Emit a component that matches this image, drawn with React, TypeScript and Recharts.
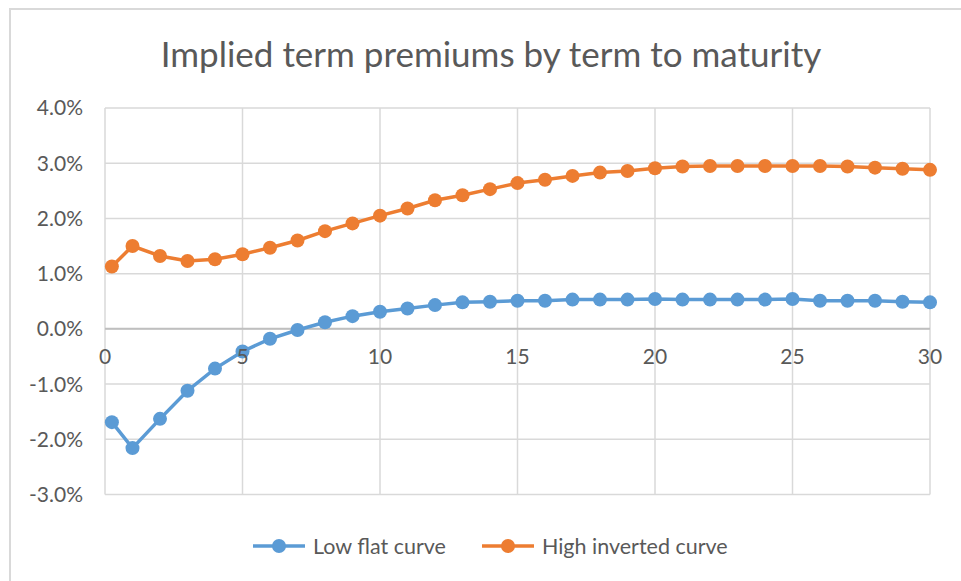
import React from "react";
import {
  LineChart,
  Line,
  XAxis,
  YAxis,
  CartesianGrid,
  ReferenceLine,
} from "recharts";

// term to maturity (years)
const terms = [0.25, 1, 2, 3, 4, 5, 6, 7, 8, 9, 10, 11, 12, 13, 14, 15, 16, 17, 18, 19, 20, 21, 22, 23, 24, 25, 26, 27, 28, 29, 30];
// implied term premium, %
const lowFlat = [-1.69, -2.16, -1.63, -1.12, -0.72, -0.41, -0.18, -0.02, 0.12, 0.23, 0.31, 0.37, 0.43, 0.48, 0.49, 0.51, 0.51, 0.53, 0.53, 0.53, 0.54, 0.53, 0.53, 0.53, 0.53, 0.54, 0.51, 0.51, 0.51, 0.49, 0.48];
const highInverted = [1.13, 1.5, 1.32, 1.23, 1.26, 1.35, 1.47, 1.6, 1.77, 1.91, 2.05, 2.18, 2.33, 2.42, 2.53, 2.64, 2.7, 2.77, 2.83, 2.86, 2.91, 2.94, 2.95, 2.95, 2.95, 2.95, 2.95, 2.94, 2.92, 2.9, 2.88];

const xTicks = [0, 5, 10, 15, 20, 25, 30];
const yTicks = [-3, -2, -1, 0, 1, 2, 3, 4];

const series = [
  { key: "low", name: "Low flat curve", color: "#5B9BD5" },
  { key: "high", name: "High inverted curve", color: "#ED7D31" },
];

const data = terms.map((t, i) => ({ term: t, low: lowFlat[i], high: highInverted[i] }));

const W = 961;
const H = 581;
const TOP = 108;
const PLOT_H = 386.5;
const Y_MIN = -3;
const Y_MAX = 4;
const FONT = "Lato, 'Noto Sans', sans-serif";
const TEXT = "#595959";
const GRID = "#D9D9D9";

// x labels sit just under the zero line, like Excel does
const zeroFromBottom = ((0 - Y_MIN) / (Y_MAX - Y_MIN)) * PLOT_H;

const XTick = (props: any) => {
  const { x, y, payload } = props;
  return (
    <text
      x={x}
      y={y - zeroFromBottom + 28}
      textAnchor="middle"
      dominantBaseline="middle"
      fill={TEXT}
      fontSize={21}
      fontFamily={FONT}
    >
      {payload.value}
    </text>
  );
};

const LegendIcon = ({ color }: { color: string }) => (
  <svg width={52} height={16} style={{ marginRight: 8 }}>
    <line x1={0} y1={8} x2={52} y2={8} stroke={color} strokeWidth={3.5} />
    <circle cx={26} cy={8} r={7} fill={color} />
  </svg>
);

export default function App() {
  return (
    <div style={{ position: "absolute", left: 0, top: 0, width: W, height: H, background: "#fff", overflow: "hidden" }}>
      <div
        style={{
          position: "absolute",
          left: 9,
          top: 8,
          width: W,
          height: H,
          borderTop: `2px solid ${GRID}`,
          borderLeft: `2px solid ${GRID}`,
        }}
      />
      <div
        style={{
          position: "absolute",
          top: 32,
          left: 0,
          width: 982,
          textAlign: "center",
          fontFamily: FONT,
          fontSize: 35,
          color: TEXT,
        }}
      >
        Implied term premiums by term to maturity
      </div>
      <LineChart
        width={W}
        height={H}
        data={data}
        margin={{ top: TOP, right: 31, left: 25, bottom: H - TOP - PLOT_H - 30 }}
      >
        <CartesianGrid stroke={GRID} strokeWidth={1.5} />
        <XAxis
          dataKey="term"
          type="number"
          domain={[0, 30]}
          ticks={xTicks}
          axisLine={false}
          tickLine={false}
          tickSize={0}
          height={30}
          tick={<XTick />}
        />
        <YAxis
          type="number"
          domain={[Y_MIN, Y_MAX]}
          ticks={yTicks}
          width={80}
          axisLine={false}
          tickLine={false}
          tickSize={0}
          tickMargin={22}
          tickFormatter={(v: number) => v.toFixed(1) + "%"}
          tick={{ fill: TEXT, fontSize: 21, fontFamily: FONT }}
        />
        <ReferenceLine y={0} stroke="#BFBFBF" strokeWidth={2} />
        {series.map((s) => (
          <Line
            key={s.key}
            dataKey={s.key}
            name={s.name}
            type="linear"
            stroke={s.color}
            strokeWidth={3.5}
            dot={{ r: 7, fill: s.color, stroke: s.color, strokeWidth: 0 }}
            isAnimationActive={false}
          />
        ))}
      </LineChart>
      <div
        style={{
          position: "absolute",
          top: 533,
          left: 253,
          display: "flex",
          alignItems: "center",
          fontFamily: FONT,
          fontSize: 21.5,
          color: TEXT,
        }}
      >
        {series.map((s, i) => (
          <div key={s.key} style={{ display: "flex", alignItems: "center", marginRight: i === 0 ? 36 : 0 }}>
            <LegendIcon color={s.color} />
            <span>{s.name}</span>
          </div>
        ))}
      </div>
    </div>
  );
}
